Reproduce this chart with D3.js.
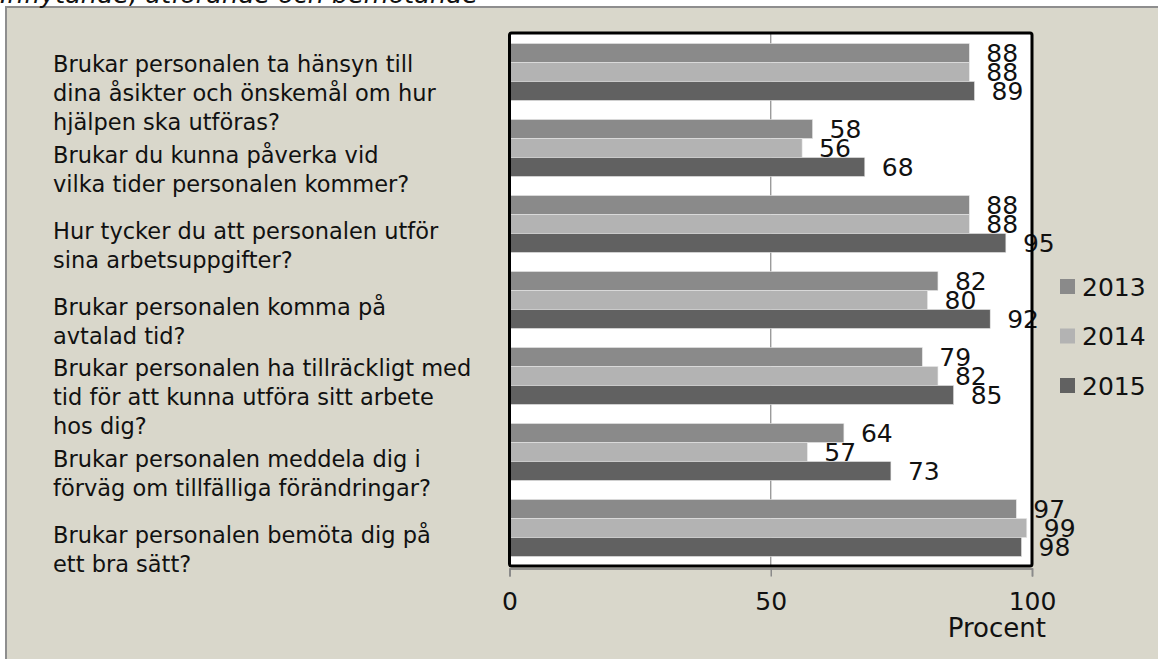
<!DOCTYPE html>
<html>
<head>
<meta charset="utf-8">
<script src="https://cdn.jsdelivr.net/npm/d3@7"></script>
<style>
    body { margin: 0; background: #ffffff; }
    #chart-area { width: 1158px; height: 659px; }
    text { font-family: "DejaVu Sans", sans-serif; fill: #111; }
</style>
</head>
<body>
<div id="chart-area"></div>
<script>

// questions (one array of lines per category, top to bottom)
let questions = [
    ["Brukar personalen ta hänsyn till", "dina åsikter och önskemål om hur", "hjälpen ska utföras?"],
    ["Brukar du kunna påverka vid", "vilka tider personalen kommer?"],
    ["Hur tycker du att personalen utför", "sina arbetsuppgifter?"],
    ["Brukar personalen komma på", "avtalad tid?"],
    ["Brukar personalen ha tillräckligt med", "tid för att kunna utföra sitt arbete", "hos dig?"],
    ["Brukar personalen meddela dig i", "förväg om tillfälliga förändringar?"],
    ["Brukar personalen bemöta dig på", "ett bra sätt?"]
];

let years = ["2013", "2014", "2015"];

let values2013 = [88, 58, 88, 82, 79, 64, 97];
let values2014 = [88, 56, 88, 80, 82, 57, 99];
let values2015 = [89, 68, 95, 92, 85, 73, 98];

let xTicks = [0, 50, 100];

let titleText = "Inflytande, utförande och bemötande";
let axisTitle = "Procent";


class GroupedBarChart {

    constructor(parentElement) {
        this.parentElement = parentElement;
        this.colors = ['#8a8a8a', '#b3b3b3', '#616161'];

        this.initVis();
    }

    initVis() {
        let vis = this;

        vis.width = 1158;
        vis.height = 659;

        vis.svg = d3.select("#" + vis.parentElement).append("svg")
            .attr("width", vis.width)
            .attr("height", vis.height);

        // grey panel behind everything
        vis.svg.append("rect")
            .attr("x", 6)
            .attr("y", 7)
            .attr("width", vis.width)
            .attr("height", vis.height)
            .attr("fill", "#d9d7cb")
            .attr("stroke", "#8e8e8e")
            .attr("stroke-width", 2);

        // title, mostly cut off at the top
        vis.svg.append("text")
            .attr("x", 0)
            .attr("y", 3)
            .attr("font-style", "italic")
            .attr("font-size", 25.5)
            .attr("fill", "#222")
            .text(titleText);

        // plot area
        vis.plot = {left: 509.5, right: 1032, top: 33, bottom: 566};

        vis.x = d3.scaleLinear()
            .domain([0, 100])
            .range([vis.plot.left, vis.plot.right]);

        vis.y = d3.scaleBand()
            .domain(d3.range(questions.length))
            .range([vis.plot.top + 1, vis.plot.bottom])
            .paddingInner(0.25)
            .paddingOuter(0.125);

        vis.ySub = d3.scaleBand()
            .domain(years)
            .range([0, vis.y.bandwidth()]);

        vis.svg.append("rect")
            .attr("x", vis.plot.left)
            .attr("y", vis.plot.top)
            .attr("width", vis.plot.right - vis.plot.left)
            .attr("height", vis.plot.bottom - vis.plot.top)
            .attr("fill", "#ffffff");

        vis.wrangleData();
    }

    wrangleData() {
        let vis = this;

        let series = [values2013, values2014, values2015];

        vis.displayData = [];
        questions.forEach((q, i) => {
            years.forEach((yr, j) => {
                vis.displayData.push({
                    cat: i,
                    year: yr,
                    value: series[j][i],
                    color: vis.colors[j]
                });
            });
        });

        vis.updateVis();
    }

    updateVis() {
        let vis = this;

        // vertical gridline(s)
        vis.svg.append("g")
            .selectAll("line")
            .data(xTicks.filter(d => d > 0 && d < 100))
            .enter()
            .append("line")
            .attr("x1", d => vis.x(d))
            .attr("x2", d => vis.x(d))
            .attr("y1", vis.plot.top)
            .attr("y2", vis.plot.bottom)
            .attr("stroke", "#8a8a8a")
            .attr("stroke-width", 1.2);

        // bars
        vis.svg.append("g")
            .attr("class", "bars")
            .selectAll(".bar")
            .data(vis.displayData)
            .enter()
            .append("rect")
            .attr("class", "bar")
            .attr("x", vis.x(0))
            .attr("y", d => vis.y(d.cat) + vis.ySub(d.year))
            .attr("width", d => vis.x(d.value) - vis.x(0))
            .attr("height", vis.ySub.bandwidth())
            .attr("fill", d => d.color)
            .attr("stroke", "#e6e6e6")
            .attr("stroke-width", 0.6);

        // value labels
        vis.svg.append("g")
            .selectAll(".value-label")
            .data(vis.displayData)
            .enter()
            .append("text")
            .attr("class", "value-label")
            .attr("x", d => vis.x(d.value) + 17)
            .attr("y", d => vis.y(d.cat) + vis.ySub(d.year) + vis.ySub.bandwidth() / 2)
            .attr("dy", "0.36em")
            .attr("font-size", 25)
            .text(d => d.value);

        // plot frame
        vis.svg.append("rect")
            .attr("x", vis.plot.left)
            .attr("y", vis.plot.top)
            .attr("width", vis.plot.right - vis.plot.left)
            .attr("height", vis.plot.bottom - vis.plot.top)
            .attr("rx", 2)
            .attr("fill", "none")
            .attr("stroke", "#000")
            .attr("stroke-width", 3);

        // x axis
        let xAxis = d3.axisBottom(vis.x)
            .tickValues(xTicks)
            .tickSize(8)
            .tickPadding(16);

        let axisG = vis.svg.append("g")
            .attr("class", "x-axis")
            .attr("transform", "translate(0," + (vis.plot.bottom + 2.5) + ")")
            .call(xAxis);

        axisG.select(".domain").attr("stroke", "#7a7a7a").attr("stroke-width", 1.5);
        axisG.selectAll(".tick line").attr("stroke", "#8a8a8a").attr("stroke-width", 1.5);
        axisG.selectAll(".tick text")
            .attr("font-size", 25)
            .attr("font-family", "DejaVu Sans, sans-serif")
            .attr("fill", "#111");

        vis.svg.append("text")
            .attr("x", 1046)
            .attr("y", 637)
            .attr("text-anchor", "end")
            .attr("font-size", 26)
            .text(axisTitle);

        // question labels at the left
        let lineHeight = 29;
        let qGroups = vis.svg.append("g")
            .selectAll(".question")
            .data(questions)
            .enter()
            .append("text")
            .attr("class", "question")
            .attr("font-size", 22.5);

        qGroups.each(function (lines, i) {
            let center = vis.y(i) + vis.y.bandwidth() / 2 + 21;
            let firstBase = center - (lines.length - 1) * lineHeight / 2 + 8;
            d3.select(this).selectAll("tspan")
                .data(lines)
                .enter()
                .append("tspan")
                .attr("x", 53)
                .attr("y", (d, k) => firstBase + k * lineHeight)
                .text(d => d);
        });

        // legend
        let legend = vis.svg.append("g")
            .attr("class", "legend")
            .selectAll("g")
            .data(years)
            .enter()
            .append("g")
            .attr("transform", (d, i) => "translate(1060," + (279 + i * 49.5) + ")");

        legend.append("rect")
            .attr("width", 15)
            .attr("height", 15)
            .attr("fill", (d, i) => vis.colors[i]);

        legend.append("text")
            .attr("x", 22)
            .attr("y", 7.5)
            .attr("dy", "0.36em")
            .attr("font-size", 25)
            .text(d => d);
    }
}

let chart = new GroupedBarChart("chart-area");

</script>
</body>
</html>
